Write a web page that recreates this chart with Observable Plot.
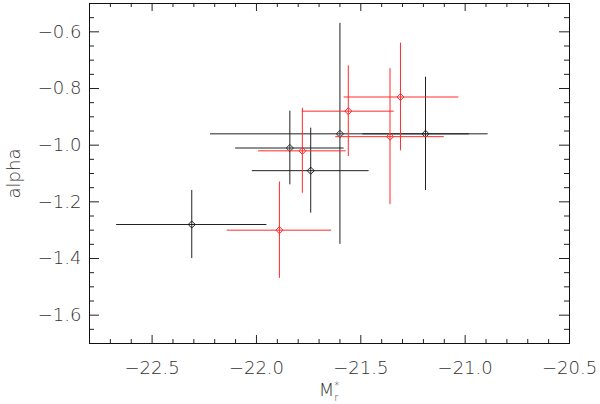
<!DOCTYPE html>
<html><head><meta charset="utf-8">
<script src="https://cdn.jsdelivr.net/npm/d3@7"></script>
<script src="https://cdn.jsdelivr.net/npm/@observablehq/plot@0.6"></script>
<style>body{margin:0;background:#fff} svg{display:block}</style>
</head><body><div id="chart"></div>
<script>
// Black sample
const blackX   = [-22.31, -21.84, -21.74, -21.60, -21.19];
const blackY   = [-1.28, -1.01, -1.09, -0.96, -0.96];
const blackXlo = [-22.67, -22.10, -22.02, -22.22, -21.49];
const blackXhi = [-21.95, -21.58, -21.46, -20.89, -20.98];
const blackYlo = [-1.40, -1.14, -1.24, -1.35, -1.16];
const blackYhi = [-1.16, -0.88, -0.94, -0.57, -0.76];
// Red sample
const redX   = [-21.89, -21.78, -21.56, -21.36, -21.31];
const redY   = [-1.30, -1.02, -0.88, -0.97, -0.83];
const redXlo = [-22.14, -21.99, -21.78, -21.62, -21.58];
const redXhi = [-21.64, -21.57, -21.34, -21.10, -21.03];
const redYlo = [-1.47, -1.17, -1.04, -1.21, -1.02];
const redYhi = [-1.13, -0.87, -0.72, -0.73, -0.64];
// Ticks
const xMajor = [-22.5, -22.0, -21.5, -21.0, -20.5];
const yMajor = [-1.6, -1.4, -1.2, -1.0, -0.8, -0.6];
const xMinor = d3.range(-228, -204, 1).map(v => v / 10).filter(v => !xMajor.some(m => Math.abs(m - v) < 1e-9));
const yMinor = d3.range(-34, -10, 1).map(v => v / 20).filter(v => !yMajor.some(m => Math.abs(m - v) < 1e-9));

const W = 600, H = 404, mL = 89, mR = 31, mT = 3, mB = 61;
const pw = W - mL - mR, ph = H - mT - mB;

function rows(X, Y, Xlo, Xhi, Ylo, Yhi) {
  return X.map((x, i) => ({x, y: Y[i], xlo: Xlo[i], xhi: Xhi[i], ylo: Ylo[i], yhi: Yhi[i]}));
}
const black = rows(blackX, blackY, blackXlo, blackXhi, blackYlo, blackYhi);
const red = rows(redX, redY, redXlo, redXhi, redYlo, redYhi);

const font = "DejaVu Sans";
const tc = "#333";
const fmt = d3.format(".1f");
const xMajL = 8, xMinL = 4, yMajL = 10, yMinL = 5;

const series = (data, color) => [
  Plot.ruleY(data, {y: "y", x1: "xlo", x2: "xhi", stroke: color, strokeWidth: 1}),
  Plot.ruleX(data, {x: "x", y1: "ylo", y2: "yhi", stroke: color, strokeWidth: 1}),
  Plot.dot(data, {x: "x", y: "y", symbol: "diamond2", r: 3.2, stroke: color, strokeWidth: 1, fill: "none"})
];

const plot = Plot.plot({
  width: W, height: H,
  marginLeft: mL, marginRight: mR, marginTop: mT, marginBottom: mB,
  x: {domain: [-22.8, -20.5], axis: null},
  y: {domain: [-1.7, -0.5], axis: null},
  style: {fontFamily: font, background: "#fff"},
  marks: [
    // ticks bottom/top
    Plot.tickX(xMajor, {x: d => d, insetTop: ph - xMajL, stroke: "#222"}),
    Plot.tickX(xMinor, {x: d => d, insetTop: ph - xMinL, stroke: "#222"}),
    Plot.tickX(xMajor, {x: d => d, insetBottom: ph - xMajL, stroke: "#222"}),
    Plot.tickX(xMinor, {x: d => d, insetBottom: ph - xMinL, stroke: "#222"}),
    // ticks left/right
    Plot.tickY(yMajor, {y: d => d, insetRight: pw - yMajL, stroke: "#222"}),
    Plot.tickY(yMinor, {y: d => d, insetRight: pw - yMinL, stroke: "#222"}),
    Plot.tickY(yMajor, {y: d => d, insetLeft: pw - yMajL, stroke: "#222"}),
    Plot.tickY(yMinor, {y: d => d, insetLeft: pw - yMinL, stroke: "#222"}),
    ...series(black, "#222"),
    ...series(red, "#ff2a2a"),
    Plot.frame({stroke: "#111"}),
    // tick labels
    Plot.text(xMajor, {x: d => d, text: d => fmt(d), frameAnchor: "bottom", dy: 30, lineAnchor: "bottom",
      fontSize: 18, fontWeight: 200, fill: tc, textAnchor: "middle"}),
    Plot.text(yMajor, {y: d => d, text: d => fmt(d), frameAnchor: "left", dx: -8, lineAnchor: "middle",
      fontSize: 18, fontWeight: 200, fill: tc, textAnchor: "end"}),
    // y label
    Plot.text(["alpha"], {text: d => d, frameAnchor: "left", dx: -75, rotate: -90, lineAnchor: "middle",
      fontSize: 18, fontWeight: 200, fill: tc, textAnchor: "middle"})
  ]
});

// x label with superscript and subscript
const svg = d3.select(plot);
const lab = svg.append("text")
  .attr("x", mL + pw / 2).attr("y", 396)
  .attr("text-anchor", "middle")
  .attr("font-family", font).attr("font-weight", 200)
  .attr("font-size", 18).attr("fill", tc);
lab.append("tspan").text("M");
lab.append("tspan").attr("dy", -7).attr("font-size", 10).text("*");
lab.append("tspan").attr("dy", 12).attr("dx", -5).attr("font-size", 10).text("r");

document.getElementById("chart").appendChild(plot);
</script></body></html>
